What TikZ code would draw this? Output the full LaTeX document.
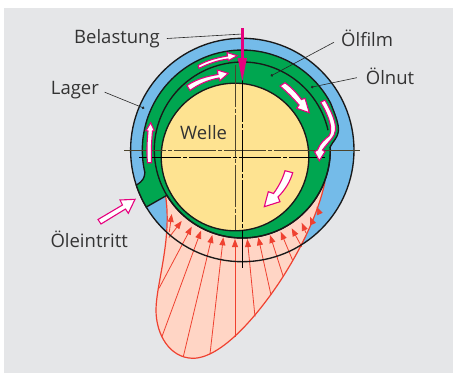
\documentclass[tikz,border=0pt]{standalone}
\usepackage{fontspec}
\setmainfont{Open Sans}
\usetikzlibrary{arrows.meta}
\definecolor{bggrey}{HTML}{E5E6E8}
\definecolor{lagerblue}{HTML}{74BBE9}
\definecolor{oilgreen}{HTML}{00A650}
\definecolor{wellyellow}{HTML}{FEE391}
\definecolor{loadpink}{HTML}{E6007E}
\definecolor{pressred}{HTML}{EF4130}
\definecolor{pressfill}{HTML}{FFD5C5}
\definecolor{textgrey}{HTML}{333333}
\begin{document}
\begin{tikzpicture}[
    x=1pt, y=1pt, >=Stealth,
    part/.style={draw=black!90, line width=1.35pt},
    label/.style={anchor=base west, inner sep=0pt, text=textgrey, font=\fontsize{18.5}{20}\selectfont},
    leader/.style={draw=black!85, line width=0.6pt},
    centerdark/.style={draw=black, line width=0.6pt, dash pattern=on 42pt off 2pt on 4pt off 2pt},
    centerpale/.style={draw=black!70!wellyellow, line width=0.8pt, dash pattern=on 42pt off 2pt on 4pt off 2pt},
    flow/.style={draw=loadpink, fill=white, line width=1.1pt, line join=miter},
    ray/.style={draw=pressred, line width=0.8pt, -{Triangle[length=8pt, width=6pt]}},
  ]
  \useasboundingbox (0,0) rectangle (453,-373);
  \fill[white] (0,0) rectangle (453,-373);
  \fill[bggrey] (4,-8) rectangle (453,-373);

  \coordinate (lagermid) at (242.3,-150);
  \coordinate (wellemid) at (235,-157);

  \fill[lagerblue] (lagermid) circle (111.7);
  \filldraw[fill=pressfill, draw=pressred, line width=1.2pt] (325,-181.7)
      .. controls (318,-215) and (300,-250) .. (283,-276.7)
      .. controls (265,-305) and (225,-358) .. (193,-358.3)
      .. controls (170,-358) and (156,-335) .. (156,-310)
      .. controls (156,-285) and (172,-240) .. (165.7,-196.7);
  \foreach \fx/\fy/\tx/\ty in {
      169.3/-232/171.7/-214, 169/-237.5/181.7/-221, 159/-288.3/191.7/-226.7,
      161.7/-337.3/201/-230.7, 183.3/-356.7/212.3/-235, 210/-354/223.3/-237.3,
      235/-336.7/235/-239, 255/-316.7/247.3/-239, 271/-295/258.3/-237.3,
      283.3/-276.7/270/-235, 292.5/-260/280.7/-231.7, 301.7/-246.7/291.7/-228.3,
      306/-233/301.7/-222.7, 313/-224/310/-216.7, 319/-212/316.7/-206.7}
    \draw[ray] (\fx,\fy) -- (\tx,\ty);
  \draw[part] (lagermid) circle (111.7);

  \filldraw[part, fill=oilgreen] (330.2,-146.9) .. controls (333,-141) and (337,-139) .. (338.3,-131.7)
      .. controls (339.5,-124) and (334,-112) .. (330.6,-103.1)
      arc (28:193:100) .. controls (144.5,-178) and (143,-181) .. (136.3,-185.1)
      arc (198.3:210.7:111.7) -- (166.9,-195.3) arc (211:362:88) -- cycle;
  \draw[part] (lagermid) ++(13:88) arc (13:362:88);
  \filldraw[part, fill=wellyellow] (wellemid) circle (73.8);

  \coordinate (hleft) at (124,-150);
  \coordinate (hright) at (360,-150);
  \coordinate (vbottom) at (242.3,-267.7);
  \coordinate (vtop) at (242.3,-30);
  \coordinate (wleft) at (139,-157);
  \coordinate (wright) at (325,-157);
  \coordinate (wtop) at (235,-65);
  \coordinate (wbottom) at (235,-230);
  \draw[centerpale] (hleft) -- (hright);
  \draw[centerpale] (wtop) -- (wbottom);
  \draw[centerdark] (wleft) -- (wright);
  \draw[centerdark] (vtop) -- (vbottom);

  \draw[flow] (198,-65.5) .. controls (208,-60) and (216,-58) .. (227.5,-56) -- (227,-52.5) -- (237.3,-55.7)
      -- (228.3,-60.7) -- (228,-59) .. controls (217,-60.5) and (209,-63.5) .. (199,-68.3) -- cycle;
  \draw[flow] (187,-85.5) .. controls (197,-79) and (206,-76.5) .. (218,-74.5) -- (217.3,-70) -- (228.3,-73.3)
      -- (220,-80.7) -- (219,-78) .. controls (208,-80) and (199,-84) .. (190,-90.5) -- cycle;
  \draw[flow] (285,-82.7) .. controls (291,-87) and (296,-92) .. (301.5,-99.5) -- (305,-98.3) -- (309.3,-112.7)
      -- (296.7,-108.3) -- (299,-105) .. controls (293,-98) and (287,-92) .. (280,-86) -- cycle;
  \draw[flow] (325,-100) .. controls (331,-111) and (336,-121) .. (335.5,-130)
      .. controls (335,-137) and (329,-141) .. (322.5,-150) -- (325,-151.7) -- (319.3,-160.7) -- (314.5,-151.7)
      -- (317.5,-150) .. controls (320,-143) and (325,-139) .. (329,-136)
      .. controls (333,-130) and (330,-118) .. (320.7,-102.3) -- cycle;
  \draw[flow] (147.5,-162.7) .. controls (146.5,-152) and (147,-142) .. (148,-131) -- (146,-130.7) -- (150.7,-122.7)
      -- (154.3,-130.7) -- (152.5,-131) .. controls (151.5,-142) and (151,-152) .. (151.5,-162.7) -- cycle;
  \draw[flow] (285,-170.7) .. controls (283,-178) and (279,-186) .. (273.5,-193.5) -- (268.3,-191.7) -- (264.3,-206.7)
      -- (280,-201.7) -- (278,-197) .. controls (285,-190) and (290,-182) .. (292.7,-172.7) -- cycle;
  \draw[flow] (98,-219.5) -- (122.5,-205) -- (120,-200) -- (135,-199.3) -- (128.3,-213.3) -- (125.5,-209) -- (101,-224) -- cycle;

  \node[label] (belastung) at (74,-43.3)   {Belastung};
  \node[label] (oelfilm)   at (341,-46.7)  {Ölfilm};
  \node[label] (oelnut)    at (365.7,-84)  {Ölnut};
  \node[label] (lager)     at (50.7,-94.3) {Lager};
  \node[label] (welle)     at (180,-139)   {Welle};
  \node[label] (oeleintritt) at (50.3,-247) {Öleintritt};

  \coordinate (loadtop) at (242.3,-28);
  \coordinate (loadtip) at (242.3,-82);
  \coordinate (loadjoin) at (242.3,-34);
  \coordinate (filmdot) at (270.7,-76);
  \coordinate (nutdot) at (311,-87.3);
  \coordinate (lagerdot) at (144.3,-108.3);
  \draw[leader] (belastung.east) ++(7,0) -- (loadjoin);
  \draw[leader, -{Circle[length=2.6pt]}, shorten <=8pt] (oelfilm.west) -- (filmdot);
  \draw[leader, -{Circle[length=2.6pt]}, shorten <=9pt] (oelnut.west) -- (nutdot);
  \draw[leader, -{Circle[length=2.6pt]}, shorten <=6pt] (lager.east) -- (lagerdot);
  \draw[draw=loadpink, line width=2.6pt, -{Triangle[length=24pt, width=8.5pt]}] (loadtop) -- (loadtip);
\end{tikzpicture}
\end{document}
